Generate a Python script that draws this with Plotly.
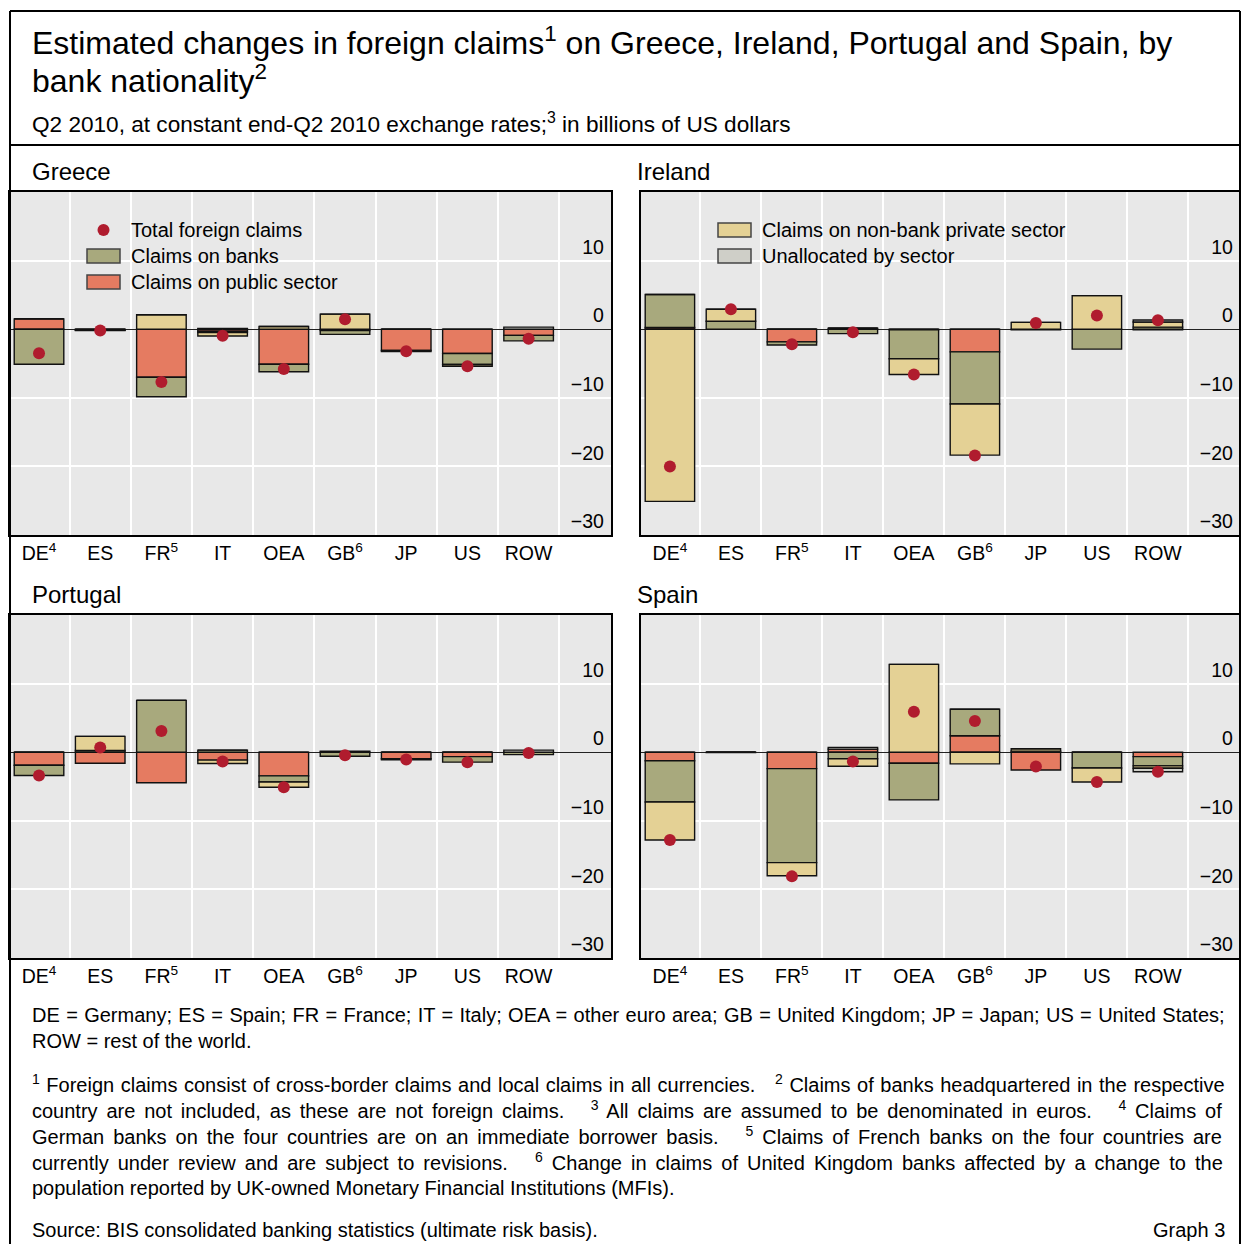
import plotly.graph_objects as go

W, H = 1241, 1244
FONT = "Liberation Sans, Arial, Helvetica, sans-serif"

# ---------------- data (billions of US dollars) ----------------
categories = ["DE<sup>4</sup>", "ES", "FR<sup>5</sup>", "IT", "OEA", "GB<sup>6</sup>", "JP", "US", "ROW"]
y_ticks = [-30, -20, -10, 0, 10]

greece_public = [1.5, -0.05, -7.0, -0.3, -5.1, -0.2, -3.1, -3.55, -0.9]
greece_banks = [-5.1, -0.1, -2.85, -0.2, -1.1, -0.55, -0.15, -1.6, -0.8]
greece_nonbank = [0.0, -0.05, 2.1, -0.5, 0.4, 2.2, 0.0, -0.25, 0.0]
greece_unalloc = [0.0, 0.0, 0.0, 0.1, 0.0, 0.0, 0.0, 0.0, 0.3]
greece_total = [-3.5, -0.2, -7.7, -0.95, -5.8, 1.45, -3.2, -5.4, -1.4]

ireland_public = [0.25, 0.0, -1.85, 0.15, -0.1, -3.3, 0.0, 0.0, -0.1]
ireland_banks = [4.8, 1.15, -0.45, -0.65, -4.2, -7.6, -0.1, -2.9, 0.3]
ireland_nonbank = [-25.1, 1.75, 0.0, 0.0, -2.3, -7.45, 1.0, 4.9, 0.75]
ireland_unalloc = [0.0, 0.0, 0.0, 0.0, 0.0, 0.0, 0.0, 0.0, 0.3]
ireland_total = [-20.0, 2.9, -2.2, -0.45, -6.6, -18.4, 0.9, 2.0, 1.3]

portugal_public = [-1.9, -1.6, -4.45, -1.15, -3.45, 0.0, -0.95, -0.65, 0.0]
portugal_banks = [-1.5, 0.25, 7.55, 0.3, -0.9, -0.6, -0.15, -0.8, -0.35]
portugal_nonbank = [0.0, 2.05, 0.0, -0.5, -0.75, 0.0, 0.0, 0.0, 0.0]
portugal_unalloc = [0.0, 0.0, 0.0, 0.0, 0.0, 0.15, 0.0, 0.0, 0.3]
portugal_total = [-3.4, 0.7, 3.1, -1.35, -5.1, -0.45, -1.05, -1.45, -0.1]

spain_public = [-1.25, 0.0, -2.4, 0.45, -1.6, 2.4, -2.6, 0.0, -0.65]
spain_banks = [-6.0, -0.05, -13.7, -0.95, -5.35, 3.85, 0.15, -2.3, -1.35]
spain_nonbank = [-5.55, 0.0, -1.9, -1.1, 12.8, -1.7, 0.35, -2.05, -0.35]
spain_unalloc = [0.0, 0.0, 0.0, 0.25, 0.0, 0.0, 0.0, 0.0, -0.5]
spain_total = [-12.8, None, -18.1, -1.35, 5.9, 4.55, -2.1, -4.35, -2.85]

# ---------------- styling ----------------
C_PUBLIC = "#E57B61"
C_BANKS = "#A8A97D"
C_NONBANK = "#E4D195"
C_UNALLOC = "#CFCFC8"
C_DOT = "#B01C2E"
C_BG = "#E8E8E8"
EDGE = "#111111"


def X(px):
    return px / W


def Y(py):
    return 1 - py / H


panels = [
    ("Greece", greece_public, greece_banks, greece_nonbank, greece_unalloc, greece_total, (10, 611), (192, 535)),
    ("Ireland", ireland_public, ireland_banks, ireland_nonbank, ireland_unalloc, ireland_total, (641, 1240), (192, 535)),
    ("Portugal", portugal_public, portugal_banks, portugal_nonbank, portugal_unalloc, portugal_total, (10, 611), (615, 958)),
    ("Spain", spain_public, spain_banks, spain_nonbank, spain_unalloc, spain_total, (641, 1240), (615, 958)),
]

xpos = list(range(len(categories)))
fig = go.Figure()
layout_axes = {}
annotations = []
shapes = []

for i, (name, pub, bnk, nbk, una, tot, (x0, x1), (y0, y1)) in enumerate(panels):
    sfx = "" if i == 0 else str(i + 1)
    xa, ya = "x" + sfx, "y" + sfx
    series = [
        ("Claims on public sector", pub, C_PUBLIC),
        ("Claims on banks", bnk, C_BANKS),
        ("Claims on non-bank private sector", nbk, C_NONBANK),
        ("Unallocated by sector", una, C_UNALLOC),
    ]
    for sname, vals, col in series:
        fig.add_trace(go.Bar(
            x=xpos, y=vals, name=sname, xaxis=xa, yaxis=ya,
            width=0.81, marker=dict(color=col, line=dict(color=EDGE, width=1.4)),
            showlegend=False,
        ))
    fig.add_trace(go.Scatter(
        x=xpos, y=tot, name="Total foreign claims", mode="markers", xaxis=xa, yaxis=ya,
        marker=dict(color=C_DOT, size=12, line=dict(width=0)), cliponaxis=False,
        showlegend=False,
    ))
    layout_axes["xaxis" + sfx] = dict(
        domain=[X(x0), X(x1)], anchor=ya, range=[-0.474, 9.346],
        tickmode="array", tickvals=xpos, ticktext=categories,
        showgrid=False, zeroline=False, ticks="",
        tickfont=dict(size=19.5, color="black", family=FONT),
        showline=True, mirror=True, linecolor="black", linewidth=2,
        minor=dict(tickmode="array", tickvals=[p + 0.5 for p in xpos], showgrid=True,
                   gridcolor="white", gridwidth=1.5, ticks=""),
        fixedrange=True,
    )
    layout_axes["yaxis" + sfx] = dict(
        domain=[Y(y1), Y(y0)], anchor=xa, range=[-30, 20], side="right",
        tickmode="array", tickvals=y_ticks, ticklabelposition="inside top",
        ticklabelstandoff=7,
        showgrid=True, gridcolor="white", gridwidth=1.5,
        zeroline=True, zerolinecolor="#222222", zerolinewidth=1.2,
        ticks="", tickfont=dict(size=19.5, color="black", family=FONT),
        showline=True, mirror=True, linecolor="black", linewidth=2,
        fixedrange=True,
    )
    annotations.append(dict(
        text=name, x=X(30 if x0 < 100 else x0 - 6), y=Y(y0 - 20), xref="paper", yref="paper",
        xanchor="left", yanchor="middle", showarrow=False,
        font=dict(size=24, color="black", family=FONT),
    ))

# ---------------- legends (drawn in the two upper panels) ----------------
legend_items = [
    ("dot", "Total foreign claims", C_DOT, 87, 120, 230),
    ("box", "Claims on banks", C_BANKS, 87, 120, 256),
    ("box", "Claims on public sector", C_PUBLIC, 87, 120, 282),
    ("box", "Claims on non-bank private sector", C_NONBANK, 718, 751, 230),
    ("box", "Unallocated by sector", C_UNALLOC, 718, 751, 256),
]
for kind, label, col, lx0, lx1, ly in legend_items:
    if kind == "dot":
        cx = (lx0 + lx1) / 2
        shapes.append(dict(type="circle", xref="paper", yref="paper",
                           x0=X(cx - 6), x1=X(cx + 6), y0=Y(ly + 6), y1=Y(ly - 6),
                           fillcolor=col, line=dict(width=0)))
    else:
        shapes.append(dict(type="rect", xref="paper", yref="paper",
                           x0=X(lx0), x1=X(lx1), y0=Y(ly + 7), y1=Y(ly - 7),
                           fillcolor=col, line=dict(color="#444444", width=1.5)))
    annotations.append(dict(text=label, x=X(lx1 + 9), y=Y(ly), xref="paper", yref="paper",
                            xanchor="left", yanchor="middle", showarrow=False,
                            font=dict(size=20, color="black", family=FONT)))

# ---------------- titles ----------------
for txt, py in [("Estimated changes in foreign claims<sup>1</sup> on Greece, Ireland, Portugal and Spain, by", 41),
                ("bank nationality<sup>2</sup>", 79)]:
    annotations.append(dict(text=txt, x=X(30), y=Y(py), xref="paper", yref="paper",
                            xanchor="left", yanchor="middle", showarrow=False,
                            font=dict(size=32, color="black", family=FONT)))

annotations.append(dict(
    text="Q2 2010, at constant end-Q2 2010 exchange rates;<sup>3</sup> in billions of US dollars",
    x=X(30), y=Y(123), xref="paper", yref="paper", xanchor="left", yanchor="middle",
    showarrow=False, font=dict(size=22.6, color="black", family=FONT)))

# ---------------- footnotes (word-spacing approximates the justified block) ----------------
foot_lines = [
    (1015, 0.8, "DE = Germany; ES = Spain; FR = France; IT = Italy; OEA = other euro area; GB = United Kingdom; JP = Japan; US = United States;"),
    (1041, 0, "ROW = rest of the world."),
    (1083, 1.0, "<sup>1</sup> Foreign claims consist of cross-border claims and local claims in all currencies.   <sup>2</sup> Claims of banks headquartered in the respective"),
    (1109, 3.3, "country are not included, as these are not foreign claims.   <sup>3</sup> All claims are assumed to be denominated in euros.   <sup>4</sup> Claims of"),
    (1135, 3.4, "German banks on the four countries are on an immediate borrower basis.   <sup>5</sup> Claims of French banks on the four countries are"),
    (1161, 3.5, "currently under review and are subject to revisions.   <sup>6</sup> Change in claims of United Kingdom banks affected by a change to the"),
    (1188, 0, "population reported by UK-owned Monetary Financial Institutions (MFIs)."),
    (1230, 0, "Source: BIS consolidated banking statistics (ultimate risk basis)."),
]
for py, ws, txt in foot_lines:
    if ws:
        txt = '<span style="word-spacing:%.1fpx">%s</span>' % (ws, txt)
    annotations.append(dict(text=txt, x=X(30), y=Y(py), xref="paper", yref="paper",
                            xanchor="left", yanchor="middle", showarrow=False,
                            font=dict(size=20, color="black", family=FONT)))
annotations.append(dict(text="Graph 3", x=X(1227), y=Y(1230), xref="paper", yref="paper",
                        xanchor="right", yanchor="middle", showarrow=False,
                        font=dict(size=20, color="black", family=FONT)))

# ---------------- frame lines ----------------
shapes += [
    dict(type="line", xref="paper", yref="paper", x0=X(10), x1=X(1240), y0=Y(11), y1=Y(11), line=dict(color="black", width=2)),
    dict(type="line", xref="paper", yref="paper", x0=X(10), x1=X(10), y0=Y(11), y1=Y(1250), line=dict(color="black", width=2)),
    dict(type="line", xref="paper", yref="paper", x0=X(1240), x1=X(1240), y0=Y(11), y1=Y(1250), line=dict(color="black", width=2)),
    dict(type="line", xref="paper", yref="paper", x0=X(10), x1=X(1240), y0=Y(145), y1=Y(145), line=dict(color="black", width=2)),
]

fig.update_layout(
    width=W, height=H, margin=dict(l=0, r=0, t=0, b=0),
    paper_bgcolor="white", plot_bgcolor=C_BG,
    font=dict(family=FONT, color="black", size=19.5),
    barmode="relative", bargap=0.19,
    showlegend=False,
    annotations=annotations, shapes=shapes,
    **layout_axes,
)

fig.write_html("out.html", config=dict(displayModeBar=False),
               post_script="document.body.style.margin='0';document.body.style.overflow='hidden';")
